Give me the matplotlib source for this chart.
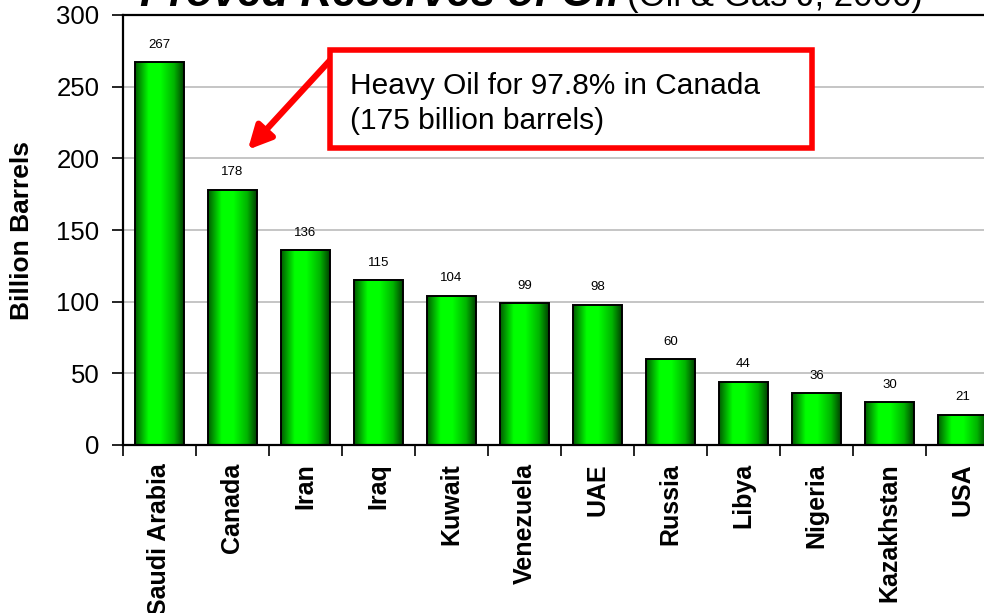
import matplotlib
matplotlib.use("Agg")
import matplotlib.pyplot as plt
import numpy as np
from matplotlib.colors import LinearSegmentedColormap
from matplotlib.patches import Rectangle

plt.rcParams['font.family'] = ['Liberation Sans', 'DejaVu Sans']

countries = ["Saudi Arabia", "Canada", "Iran", "Iraq", "Kuwait", "Venezuela",
             "UAE", "Russia", "Libya", "Nigeria", "Kazakhstan", "USA"]
reserves = [267, 178, 136, 115, 104, 99, 98, 60, 44, 36, 30, 21]
yticks = [0, 50, 100, 150, 200, 250, 300]

fig = plt.figure(figsize=(9.84, 6.13), dpi=100)
ax = fig.add_axes([123 / 984, 168 / 613, 876 / 984, 430 / 613])

# green shading across each bar: dark edges, bright middle
green = LinearSegmentedColormap.from_list(
    "bar_green", [(0.0, "#005a00"), (0.28, "#00ff00"), (0.52, "#00ff00"),
                  (0.8, "#00b400"), (1.0, "#004000")])
shade = np.linspace(0, 1, 256).reshape(1, -1)

width = 0.67
x = np.arange(len(countries))
bars = ax.bar(x, reserves, width=width, facecolor="none", edgecolor="black",
              linewidth=1.4, zorder=3)
for b, v in zip(bars, reserves):
    x0 = b.get_x()
    im = ax.imshow(shade, cmap=green, aspect="auto", extent=(x0, x0 + width, 0, v),
                   zorder=2, interpolation="bilinear")
    im.set_clip_path(b)
    ax.text(b.get_x() + width / 2, v + 8, str(v), ha="center", va="bottom", fontsize=9.5)

ax.set_xlim(-0.5, len(countries) - 0.5)
ax.set_ylim(0, 300)
ax.set_yticks(yticks)
ax.tick_params(axis="y", direction="out", length=8, width=1.2, labelsize=18.5, pad=9)
ax.yaxis.grid(True, color="#c0c0c0", linewidth=1.3, zorder=0)
ax.set_axisbelow(True)

ax.set_xticks(x)
ax.set_xticklabels(countries, rotation=90, fontsize=18, fontweight="bold")
ax.set_xticks(np.arange(-0.5, len(countries)), minor=True)
ax.tick_params(axis="x", which="major", length=0, pad=13)
ax.tick_params(axis="x", which="minor", direction="out", length=8, width=1.2)

for side in ["left", "bottom", "top"]:
    ax.spines[side].set_linewidth(1.6)
ax.spines["right"].set_visible(False)

fig.text(22 / 984, 1 - 231 / 613, "Billion Barrels", rotation=90, ha="center", va="center",
         fontsize=19, fontweight="bold")

# title, partly above the canvas
fig.text(140 / 984, 607 / 613, "Proved Reserves of Oil", ha="left", va="baseline",
         fontsize=31.5, fontweight="bold", style="italic")
fig.text(627 / 984, 607 / 613, "(Oil & Gas J, 2006)", ha="left", va="baseline",
         fontsize=25)

# callout box with arrow pointing at Canada
box = Rectangle((2.34, 207), 6.6, 68.5, facecolor="white", edgecolor="#ff0000",
                linewidth=4, zorder=5, clip_on=False)
ax.add_patch(box)
ax.text(2.61, 238.5, "Heavy Oil for 97.8% in Canada\n(175 billion barrels)", ha="left",
        va="center", fontsize=21.5, linespacing=1.32, zorder=6)
ax.annotate("", xy=(1.21, 206), xytext=(2.34, 268.6),
            arrowprops=dict(arrowstyle="-|>,head_length=1.4,head_width=0.7",
                            color="#ff0000", lw=4.5, shrinkA=0, shrinkB=0),
            zorder=4)

fig.savefig("out.png", dpi=100)
